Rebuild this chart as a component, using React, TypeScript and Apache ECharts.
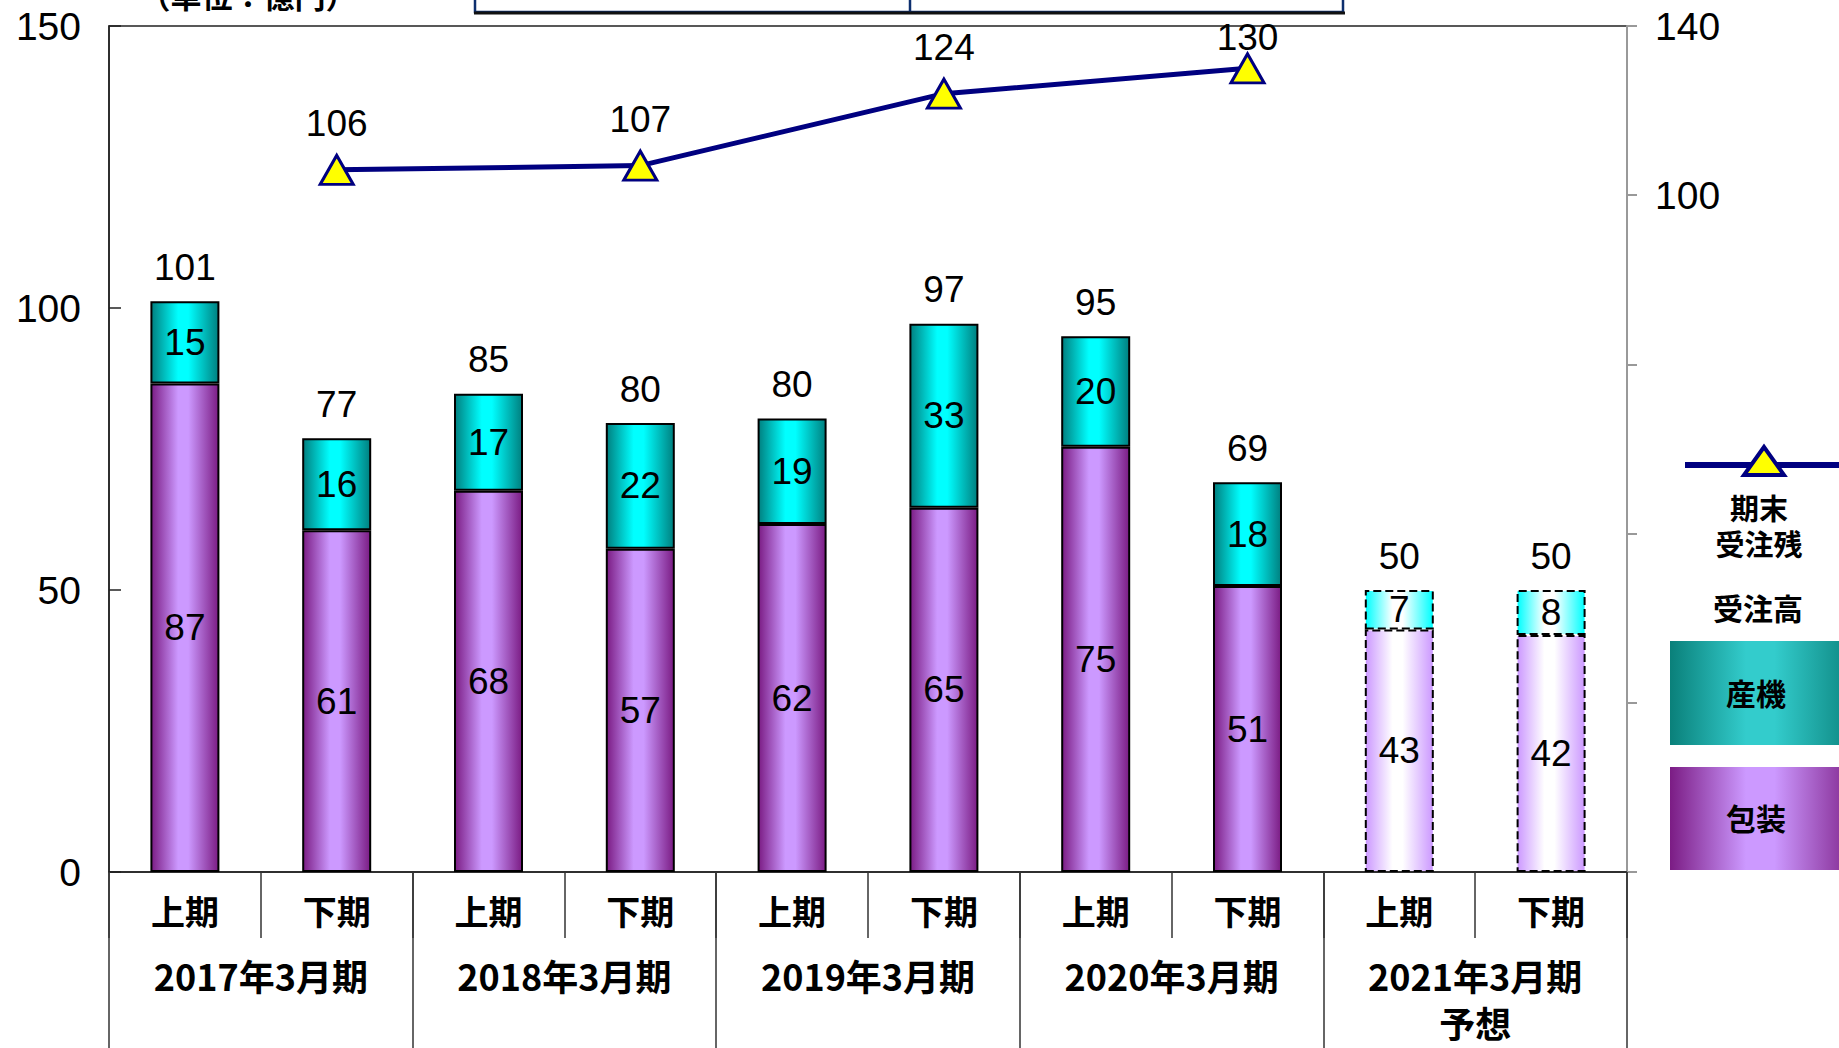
import React, { useEffect, useRef } from "react";
import * as echarts from "echarts";

const categories = ["上期", "下期", "上期", "下期", "上期", "下期", "上期", "下期", "上期", "下期"];
const years = ["2017年3月期", "2018年3月期", "2019年3月期", "2020年3月期", "2021年3月期\n予想"];
const packaging = [86.6, 60.6, 67.6, 57.3, 61.7, 64.6, 75.4, 50.7, 43, 42];
const industrial = [14.6, 16.3, 17.2, 22.3, 18.7, 32.6, 19.6, 18.4, 7, 8];
const backlog: (number | null)[] = [null, 106, null, 107, null, 124, null, 130, null, null];
const forecast = [false, false, false, false, false, false, false, false, true, true];
const rightShift = 60; // right axis runs from -60 to 140

const FONT = '"Liberation Sans", Arial, "Noto Sans CJK JP", sans-serif';
const CJK = '"Noto Sans CJK JP", "Liberation Sans", sans-serif';
const W = 1839;
const H = 1048;

const grad = (edge: string, mid: string) =>
  new echarts.graphic.LinearGradient(0, 0, 1, 0, [
    { offset: 0, color: edge },
    { offset: 0.4, color: mid },
    { offset: 0.55, color: mid },
    { offset: 1, color: edge },
  ]);

const legendText = (text: string, x: number, y: number, size = 30) => ({
  type: "text",
  x,
  y,
  style: {
    text,
    fontSize: size,
    fontWeight: "bold",
    fontFamily: CJK,
    fill: "#000",
    align: "center",
    verticalAlign: "middle",
  },
});

export default function App() {
  const ref = useRef<HTMLDivElement>(null);
  useEffect(() => {
    if (!ref.current) return;
    const chart = echarts.init(ref.current, null, { renderer: "svg", width: W, height: H });
    const totals = packaging.map((p, i) => +(p + industrial[i]).toFixed(1));
    const barItems = (vals: number[], normal: [string, string], fc: [string, string]) =>
      vals.map((v, i) => ({
        value: v,
        itemStyle: forecast[i]
          ? { color: grad(fc[0], fc[1]), borderColor: "#000", borderWidth: 2, borderType: "dashed" }
          : { color: grad(normal[0], normal[1]), borderColor: "#000", borderWidth: 2 },
      }));
    const maxBacklog = Math.max(...(backlog.filter((v) => v !== null) as number[]));
    const backlogItems = backlog.map((v) =>
      v === maxBacklog ? { value: v, label: { distance: -4 } } : v
    );
    const innerLabel = {
      show: true,
      position: "inside",
      fontSize: 37,
      fontFamily: FONT,
      color: "#000",
      formatter: (p: any) => String(Math.round(p.value)),
    };
    chart.setOption({
      animation: false,
      backgroundColor: "#fff",
      textStyle: { fontFamily: FONT },
      grid: {
        left: 109,
        right: 212,
        top: 26,
        bottom: 176,
        show: true,
        borderColor: "#222",
        borderWidth: 1.5,
      },
      xAxis: [
        {
          type: "category",
          data: categories,
          position: "bottom",
          axisLine: { onZero: false, lineStyle: { color: "#222", width: 1.5 } },
          axisTick: { show: true, interval: 0, length: 66, lineStyle: { color: "#333", width: 1.5 } },
          axisLabel: {
            interval: 0,
            margin: 21,
            fontSize: 34,
            fontWeight: "bold",
            fontFamily: CJK,
            color: "#000",
          },
        },
        {
          type: "category",
          data: years,
          position: "bottom",
          gridIndex: 0,
          axisLine: { show: false, onZero: false },
          axisTick: { show: true, interval: 0, length: 180, lineStyle: { color: "#333", width: 1.5 } },
          axisLabel: {
            interval: 0,
            margin: 79,
            fontSize: 36,
            lineHeight: 47,
            fontWeight: "bold",
            fontFamily: CJK,
            color: "#000",
          },
        },
      ],
      yAxis: [
        {
          type: "value",
          min: 0,
          max: 150,
          interval: 50,
          position: "left",
          axisLine: { show: true, lineStyle: { color: "#222", width: 1.5 } },
          axisTick: { show: true, inside: true, length: 12, lineStyle: { color: "#222", width: 1.5 } },
          axisLabel: { fontSize: 39, color: "#000", margin: 28, fontFamily: FONT },
          splitLine: { show: false },
        },
        {
          type: "value",
          min: -60,
          max: 140,
          position: "right",
          show: false,
          splitLine: { show: false },
        },
        {
          type: "value",
          min: 0,
          max: 200,
          interval: 40,
          position: "right",
          axisLine: { show: true, lineStyle: { color: "#999", width: 2 } },
          axisTick: { show: true, length: 10, lineStyle: { color: "#999", width: 2 } },
          axisLabel: {
            fontSize: 39,
            color: "#000",
            margin: 28,
            fontFamily: FONT,
            formatter: (v: number) => (v - rightShift >= 100 ? String(v - rightShift) : ""),
          },
          splitLine: { show: false },
        },
      ],
      series: [
        {
          name: "包装",
          type: "bar",
          stack: "order",
          barWidth: 69,
          data: barItems(packaging, ["#7B1C84", "#CC99FF"], ["#CC99FF", "#FFFFFF"]),
          label: innerLabel,
        },
        {
          name: "産機",
          type: "bar",
          stack: "order",
          barWidth: 69,
          data: barItems(industrial, ["#008080", "#00FFFF"], ["#00FFFF", "#FFFFFF"]),
          label: innerLabel,
        },
        {
          name: "受注高",
          type: "line",
          data: totals,
          symbol: "circle",
          symbolSize: 1,
          itemStyle: { color: "transparent", borderWidth: 0 },
          lineStyle: { width: 0, color: "transparent" },
          label: {
            show: true,
            position: "top",
            distance: 15,
            fontSize: 37,
            color: "#000",
            fontFamily: FONT,
            formatter: (p: any) => String(Math.round(p.value)),
          },
          z: 5,
        },
        {
          name: "期末受注残",
          type: "line",
          yAxisIndex: 1,
          data: backlogItems,
          connectNulls: true,
          symbol: "triangle",
          symbolSize: [33, 29],
          lineStyle: { color: "#000080", width: 5 },
          itemStyle: { color: "#FFFF00", borderColor: "#000080", borderWidth: 3 },
          label: {
            show: true,
            position: "top",
            distance: 12,
            fontSize: 37,
            color: "#000",
            fontFamily: FONT,
          },
          z: 6,
        },
      ],
      graphic: [
        {
          type: "text",
          x: 248,
          y: 10,
          style: {
            text: "（単位：億円）",
            fontSize: 31,
            fontWeight: "bold",
            fontFamily: CJK,
            fill: "#000",
            align: "center",
            verticalAlign: "bottom",
          },
        },
        {
          type: "rect",
          shape: { x: 475, y: -60, width: 868, height: 72 },
          style: { fill: "#fff", stroke: "#0d2f6e", lineWidth: 2.5 },
        },
        {
          type: "line",
          shape: { x1: 910, y1: -60, x2: 910, y2: 12 },
          style: { stroke: "#0d2f6e", lineWidth: 2.5 },
        },
        {
          type: "line",
          shape: { x1: 474, y1: 13, x2: 1345, y2: 13 },
          style: { stroke: "#111", lineWidth: 3 },
        },
        {
          type: "line",
          shape: { x1: 1685, y1: 465, x2: 1839, y2: 465 },
          style: { stroke: "#000080", lineWidth: 6 },
        },
        {
          type: "polygon",
          shape: { points: [[1764, 447], [1744, 475], [1784, 475]] },
          style: { fill: "#FFFF00", stroke: "#000080", lineWidth: 4 },
        },
        legendText("期末", 1759, 507, 29),
        legendText("受注残", 1759, 543, 29),
        legendText("受注高", 1758, 607),
        {
          type: "rect",
          shape: { x: 1670, y: 641, width: 190, height: 104 },
          style: {
            fill: new echarts.graphic.LinearGradient(0, 0, 1, 0, [
              { offset: 0, color: "#0A807A" },
              { offset: 0.4, color: "#33CCCC" },
              { offset: 0.55, color: "#33CCCC" },
              { offset: 1, color: "#0A807A" },
            ]),
          },
        },
        legendText("産機", 1756, 692),
        {
          type: "rect",
          shape: { x: 1670, y: 767, width: 190, height: 103 },
          style: {
            fill: new echarts.graphic.LinearGradient(0, 0, 1, 0, [
              { offset: 0, color: "#7B1C84" },
              { offset: 0.4, color: "#CC99FF" },
              { offset: 0.55, color: "#CC99FF" },
              { offset: 1, color: "#7B1C84" },
            ]),
          },
        },
        legendText("包装", 1756, 817),
      ],
    });
    return () => chart.dispose();
  }, []);
  return (
    <div
      ref={ref}
      style={{ position: "fixed", left: 0, top: 0, width: W, height: H, background: "#fff" }}
    />
  );
}
